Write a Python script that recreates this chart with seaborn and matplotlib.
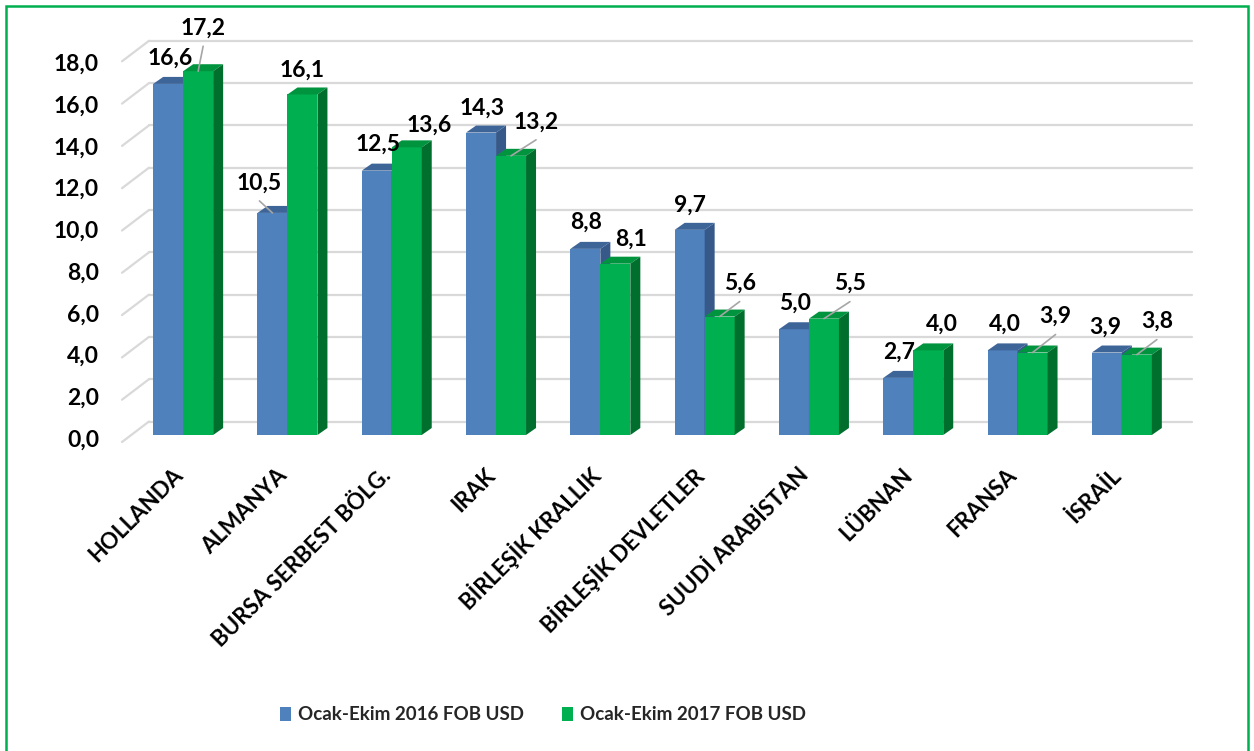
import numpy as np
import pandas as pd
import matplotlib
matplotlib.use("Agg")
import matplotlib.pyplot as plt
import seaborn as sns
from matplotlib.patches import Polygon, Rectangle, Patch
from matplotlib.transforms import ScaledTranslation

# ---------------- data ----------------
countries = ["HOLLANDA", "ALMANYA", "BURSA SERBEST BÖLG.", "IRAK", "BİRLEŞİK KRALLIK",
             "BİRLEŞİK DEVLETLER", "SUUDİ ARABİSTAN", "LÜBNAN", "FRANSA", "İSRAİL"]
values_2016 = [16.6, 10.5, 12.5, 14.3, 8.8, 9.7, 5.0, 2.7, 4.0, 3.9]
values_2017 = [17.2, 16.1, 13.6, 13.2, 8.1, 5.6, 5.5, 4.0, 3.9, 3.8]
series_names = ["Ocak-Ekim 2016 FOB USD", "Ocak-Ekim 2017 FOB USD"]
y_ticks = [0, 2, 4, 6, 8, 10, 12, 14, 16, 18]

# ---------------- styling / layout ----------------
BLUE, BLUE_TOP, BLUE_SIDE = "#4F81BD", "#3E6598", "#37598A"
GREEN, GREEN_TOP, GREEN_SIDE = "#00B050", "#00943F", "#006F2E"
GRID = "#D9D9D9"
LEADER = "#A6A6A6"
# data-label offsets in pixels (dx, dy up) relative to bar centre / front top
off16 = [(2, 26), (-13, 30), (1, 26), (1, 24), (1, 27), (0, 25), (1, 26), (1, 26), (2, 26), (-2, 25)]
off17 = [(5, 43), (0, 24), (22, 22), (25, 34), (16, 24), (20, 33), (26, 35), (14, 26), (23, 36), (20, 33)]
lead16 = [False, True, False, False, False, False, False, False, False, False]
lead17 = [True, False, False, True, False, True, True, False, True, True]

sns.set_theme(style="white")
plt.rcParams['font.family'] = ['Lato', 'DejaVu Sans']

W, H = 1254, 751
fig = plt.figure(figsize=(W / 100, H / 100), dpi=100)
fig.patch.set_facecolor("white")
ax_left, ax_base, ax_w, ax_h = 131, 435, 1043, 18 * 21.15
ax = fig.add_axes([ax_left / W, (H - ax_base) / H, ax_w / W, ax_h / H])
ax.set_facecolor("none")

df = pd.DataFrame({
    "country": countries * 2,
    "value": values_2016 + values_2017,
    "series": [series_names[0]] * len(countries) + [series_names[1]] * len(countries),
})
sns.barplot(data=df, x="country", y="value", hue="series", palette=[BLUE, GREEN],
            width=0.575, gap=0, saturation=1, legend=False, ax=ax, linewidth=0,
            errorbar=None)

ax.set_xlim(-0.5, 9.5)
ax.set_ylim(0, 18)
for s in ax.spines.values():
    s.set_visible(False)

# pixel -> data unit conversion
ppx = ax_w / 10.0
ppy = ax_h / 18.0
DX, DY = 10 / ppx, 7 / ppy  # bar depth

# back-wall gridlines and left floor diagonals
gx, gy = 18 / ppx, 13.5 / ppy
fx, fy = -9 / ppx, -7 / ppy
x0, x1 = ax.get_xlim()
for v in y_ticks:
    ax.plot([x0 + gx, x1 + gx], [v + gy, v + gy], color=GRID, lw=1.6, zorder=1, clip_on=False)
    ax.plot([x0 + fx, x0 + gx], [v + fy, v + gy], color=GRID, lw=1.6, zorder=1, clip_on=False)

# 3D faces
faces = [(BLUE_TOP, BLUE_SIDE, 3), (GREEN_TOP, GREEN_SIDE, 5)]
for ci, cont in enumerate(ax.containers):
    top_c, side_c, z = faces[ci]
    for p in cont:
        p.set_zorder(z)
        p.set_clip_on(False)
        xa = p.get_x()
        xb = xa + p.get_width()
        h = p.get_height()
        top = Polygon([(xa, h), (xb, h), (xb + DX, h + DY), (xa + DX, h + DY)], closed=True,
                      facecolor=top_c, edgecolor="none", zorder=z + 0.5, clip_on=False)
        side = Polygon([(xb, 0), (xb + DX, DY), (xb + DX, h + DY), (xb, h)], closed=True,
                       facecolor=side_c, edgecolor="none", zorder=z + 0.5, clip_on=False)
        ax.add_patch(top)
        ax.add_patch(side)

# data labels
for ci, (cont, vals, offs, leads) in enumerate(zip(ax.containers, [values_2016, values_2017],
                                                    [off16, off17], [lead16, lead17])):
    for p, v, (odx, ody), ld in zip(cont, vals, offs, leads):
        cx = p.get_x() + p.get_width() / 2
        h = p.get_height()
        tx, ty = cx + odx / ppx, h + ody / ppy
        ax.text(tx, ty, f"{v:.1f}".replace(".", ","), ha="center", va="center",
                fontsize=16.5, fontweight="bold", color="black", zorder=10, clip_on=False)
        if ld:
            ax.plot([tx, cx], [ty - 18 / ppy, h], color=LEADER, lw=1.2, zorder=9, clip_on=False)

# y ticks
ax.set_yticks(y_ticks)
ax.set_yticklabels([f"{v:.1f}".replace(".", ",") for v in y_ticks], fontsize=16.5,
                   fontweight="bold", color="black")
ax.tick_params(axis="y", length=0, pad=23)
for v, lab in zip(y_ticks, ax.get_yticklabels()):
    lab.set_transform(lab.get_transform() +
                      ScaledTranslation(0, -(3 + 5 * v / 18) / 100, fig.dpi_scale_trans))

# x ticks
ax.set_xticks(range(len(countries)))
ax.set_xticklabels(countries, rotation=45, ha="right", va="center", rotation_mode="anchor",
                   fontsize=16, fontweight="bold", color="black")
ax.tick_params(axis="x", length=0, pad=26.5)
for lab in ax.get_xticklabels():
    lab.set_transform(lab.get_transform() + ScaledTranslation(-4 / 100, 0, fig.dpi_scale_trans))
ax.set_xlabel("")
ax.set_ylabel("")

# legend
handles = [Patch(facecolor=BLUE, edgecolor="none"), Patch(facecolor=GREEN, edgecolor="none")]
fig.legend(handles, series_names, loc="center", bbox_to_anchor=(543 / W, 1 - 715 / H),
           ncol=2, frameon=False, prop={"weight": "bold", "size": 13.5},
           handlelength=0.6, handleheight=0.75, handletextpad=0.4, columnspacing=2.0)

# green border
fig.add_artist(Rectangle((6 / W, -0.02), (1248 - 6) / W, 1.02 - 5.5 / H,
                         transform=fig.transFigure, fill=False, edgecolor="#00B050", lw=1.8))

fig.savefig("out.png", dpi=100, facecolor="white")
